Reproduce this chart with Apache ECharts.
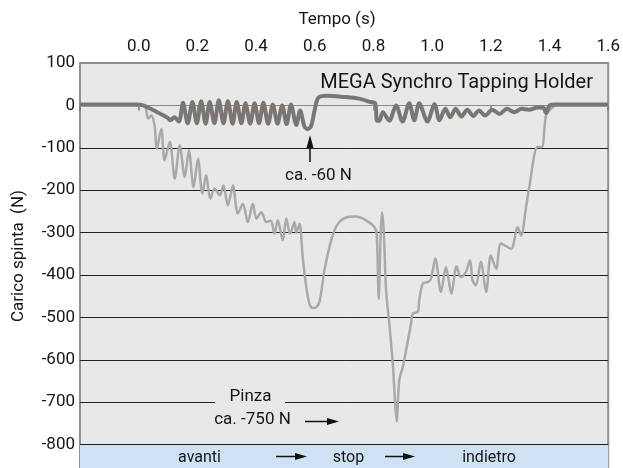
<!DOCTYPE html>
<html>
<head>
<meta charset="utf-8">
<script src="https://cdn.jsdelivr.net/npm/echarts@6/dist/echarts.min.js"></script>
<style>
html,body{margin:0;padding:0;background:#fff;overflow:hidden;width:623px;height:468px;}
#chart{width:623px;height:487px;}
</style>
</head>
<body>
<div id="chart"></div>
<script>
// ---- data ----
const xTitle = 'Tempo (s)';
const yTitle = 'Carico spinta  (N)';
const seriesNames = ['Pinza', 'MEGA Synchro Tapping Holder'];

const pinzaTime = [-0.2,0.0,0.02,0.032,0.043,0.054,0.062,0.077,0.088,0.106,0.123,0.14,0.157,0.171,0.187,0.202,0.217,0.23,0.244,0.259,0.276,0.289,0.304,0.321,0.338,0.355,0.372,0.389,0.401,0.418,0.435,0.45,0.463,0.474,0.491,0.503,0.516,0.531,0.537,0.548,0.559,0.571,0.582,0.593,0.605,0.616,0.633,0.65,0.667,0.684,0.712,0.741,0.775,0.803,0.811,0.818,0.824,0.829,0.835,0.843,0.854,0.866,0.872,0.879,0.888,0.9,0.911,0.928,0.934,0.951,0.956,0.968,0.985,0.996,1.011,1.03,1.047,1.066,1.083,1.098,1.115,1.129,1.138,1.149,1.166,1.184,1.2,1.218,1.235,1.269,1.291,1.303,1.32,1.331,1.359,1.374,1.388,1.405,1.422,1.6];
const pinzaLoad = [0,0,0,-31,-24,-47,-102,-55,-130,-86,-173,-94,-169,-106,-193,-126,-208,-165,-220,-196,-212,-189,-236,-189,-255,-232,-275,-232,-267,-252,-275,-272,-303,-271,-318,-267,-303,-275,-300,-279,-358,-428,-468,-478,-476,-464,-389,-334,-295,-275,-263,-262,-271,-287,-303,-456,-318,-252,-295,-436,-515,-609,-680,-745,-648,-617,-578,-515,-491,-487,-460,-420,-417,-409,-361,-440,-381,-444,-380,-405,-393,-365,-413,-424,-369,-440,-354,-385,-326,-338,-287,-307,-240,-193,-98,-98,-24,-8,0,0];

const synchroTime = [-0.2,-0.01,0.015,0.06,0.1,0.108,0.122,0.137,0.151,0.167,0.183,0.198,0.213,0.228,0.242,0.258,0.273,0.289,0.304,0.32,0.334,0.35,0.364,0.38,0.395,0.41,0.425,0.441,0.457,0.473,0.489,0.504,0.519,0.537,0.55,0.565,0.576,0.588,0.6,0.612,0.64,0.7,0.75,0.79,0.806,0.812,0.82,0.832,0.854,0.877,0.899,0.922,0.939,0.956,0.984,1.008,1.025,1.045,1.062,1.08,1.1,1.12,1.14,1.16,1.18,1.205,1.23,1.255,1.28,1.305,1.33,1.36,1.38,1.388,1.4,1.42,1.6];
const synchroLoad = [2,2,0,-15,-30,-35,-28,-38,6,-42,8,-42,10,-43,8,-42,12,-42,10,-43,8,-42,5,-43,5,-42,6,-43,2,-43,0,-44,2,-46,-12,-50,-56,-48,-10,18,23,20,16,8,5,-36,-36,-16,-36,0,-38,5,-35,5,-38,3,-35,-8,-28,-8,-26,-10,-25,-12,-24,-10,-20,-8,-16,-8,-10,-5,-6,-18,0,2,2];

const yTicks = {min: -900, max: 100, step: 100};
const xTicks = {min: -0.2, max: 1.6, step: 0.2};
const phaseBand = [-800, -900];
const phaseLabels = ['avanti', 'stop', 'indietro'];
const annotations = ['ca. -60 N', 'Pinza', 'ca. -750 N'];

function zip(a, b) { return a.map((v, i) => [v, b[i]]); }

const FONT = 'Roboto, "Noto Sans", sans-serif';
const TXT = '#151515';

const chart = echarts.init(document.getElementById('chart'), null, {renderer: 'canvas'});

// split line colors in ascending tick order: -900 .. 100
const splitColors = ['rgba(0,0,0,0)','#222','#222','#222','#222','#222','#222','#222','#222','#8a8a8a','rgba(0,0,0,0)'];

function txt(text, x, y, size, align, extra) {
  return Object.assign({
    type: 'text', x: x, y: y, z: 100,
    style: {text: text, fill: TXT, font: size + 'px ' + FONT, textAlign: align || 'center', verticalAlign: 'middle'}
  }, extra || {});
}
function arrowRight(x1, x2, y) {
  return [
    {type:'line', z:100, shape:{x1:x1, y1:y, x2:x2-8, y2:y}, style:{stroke:'#111', lineWidth:1.5}},
    {type:'polygon', z:100, shape:{points:[[x2-12,y-3.5],[x2,y],[x2-12,y+3.5]]}, style:{fill:'#111'}}
  ];
}

const graphics = [
  txt(xTitle, 337, 20, 17),
  txt(yTitle, 19, 256, 17, 'center', {rotation: Math.PI/2}),
  txt(seriesNames[1], 593, 83, 20, 'right'),
  // -60 N arrow
  {type:'line', z:100, shape:{x1:310, y1:162, x2:310, y2:144}, style:{stroke:'#111', lineWidth:1.5}},
  {type:'polygon', z:100, shape:{points:[[306.5,148],[310,135],[313.5,148]]}, style:{fill:'#111'}},
  txt(annotations[0], 318.5, 176, 17),
  // Pinza label breaking the grid line
  {type:'rect', z:99, shape:{x:215, y:398, width:70, height:8}, style:{fill:'#e8e8e8'}},
  txt(annotations[1], 250.5, 397, 17),
  txt(annotations[2], 252.5, 420, 17),
  ...arrowRight(305, 339, 421.5),
  // phase band labels
  txt(phaseLabels[0], 199.5, 458, 16),
  ...arrowRight(276, 307, 456.5),
  txt(phaseLabels[1], 348.5, 458, 16),
  ...arrowRight(385, 415, 456.5),
  txt(phaseLabels[2], 489, 458, 16)
];

const option = {
  animation: false,
  backgroundColor: '#ffffff',
  textStyle: {fontFamily: FONT},
  grid: {left: 80, right: 14, top: 63, bottom: 0, show: true, backgroundColor: '#e8e8e8', borderColor: '#8f8f8f', borderWidth: 2},
  xAxis: {
    type: 'value', position: 'top',
    min: xTicks.min, max: xTicks.max, interval: xTicks.step,
    axisLine: {show: false},
    axisTick: {show: true, inside: true, length: 5, lineStyle: {color: '#777', width: 1.5}},
    axisLabel: {fontSize: 17, color: TXT, margin: 8, fontFamily: FONT,
      formatter: v => (v < -0.01 ? '' : v.toFixed(1))},
    splitLine: {show: false}
  },
  yAxis: {
    type: 'value',
    min: yTicks.min, max: yTicks.max, interval: yTicks.step,
    axisLine: {show: false}, axisTick: {show: false},
    axisLabel: {fontSize: 17, color: TXT, margin: 5, fontFamily: FONT,
      formatter: v => (v < -850 ? '' : String(v))},
    splitLine: {show: true, lineStyle: {color: splitColors, width: 1}}
  },
  series: [
    {
      name: seriesNames[0], type: 'line', data: zip(pinzaTime, pinzaLoad),
      showSymbol: false, smooth: 0.3,
      lineStyle: {color: '#aaa9a7', width: 2.5}, itemStyle: {color: '#aaa9a7'},
      markArea: {silent: true, itemStyle: {color: '#cfe2f3'},
        data: [[{yAxis: phaseBand[0]}, {yAxis: phaseBand[1]}]]},
      markLine: {silent: true, symbol: 'none', label: {show: false},
        lineStyle: {color: '#222', width: 1, type: 'solid'},
        data: [{yAxis: phaseBand[0]}]},
      z: 2
    },
    {
      name: seriesNames[1], type: 'line', data: zip(synchroTime, synchroLoad),
      showSymbol: false, smooth: 0.3,
      lineStyle: {color: '#7a7673', width: 4}, itemStyle: {color: '#7a7673'},
      z: 3
    }
  ],
  graphic: graphics
};
chart.setOption(option);
</script>
</body>
</html>
